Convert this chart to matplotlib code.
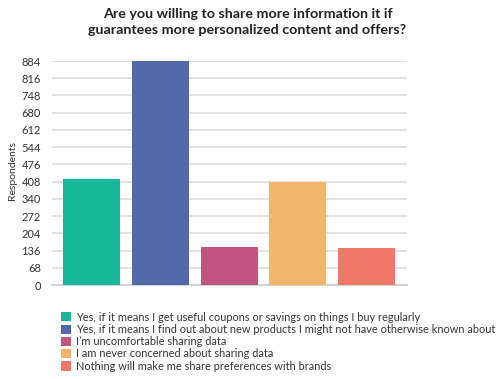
import matplotlib.pyplot as plt
from matplotlib.patches import Patch

# Antworten und Anzahl der Befragten
labels = [
    "Yes, if it means I get useful coupons or savings on things I buy regularly",
    "Yes, if it means I find out about new products I might not have otherwise known about",
    "I\u2019m uncomfortable sharing data",
    "I am never concerned about sharing data",
    "Nothing will make me share preferences with brands",
]
values = [418, 884, 150, 406, 146]
colors = ["#17B99A", "#5169A8", "#C0557F", "#F2B56C", "#F07868"]
yticks = list(range(0, 885, 68))

plt.rcParams["font.family"] = ["Lato", "DejaVu Sans"]

fig = plt.figure(figsize=(5.0, 3.79), dpi=100)
ax = fig.add_axes([0.104, 0.248, 0.71, 0.591])

x = list(range(len(values)))
ax.bar(x, values, width=0.83, color=colors, zorder=3)

ax.set_xlim(-0.58, 4.59)
ax.set_ylim(0, 884)
ax.set_yticks(yticks)
ax.tick_params(axis="y", length=0, labelsize=8, colors="#333333", pad=8)
ax.set_xticks([])
ax.yaxis.grid(True, color="#dddddd", linewidth=1.2, zorder=0)
for s in ["top", "right", "left"]:
    ax.spines[s].set_visible(False)
ax.spines["bottom"].set_color("#cccccc")
ax.spines["bottom"].set_linewidth(1.2)

fig.text(0.026, 0.55, "Respondents", rotation=90, ha="center", va="center",
         fontsize=7.5, color="#333333")

fig.text(0.495, 0.98, "Are you willing to share more information it if\nguarantees more personalized content and offers?",
         ha="center", va="top", fontsize=10.3, fontweight="bold", color="#222222",
         linespacing=1.45)

handles = [Patch(facecolor=c, edgecolor="none") for c in colors]
fig.legend(handles, labels, loc="upper left", bbox_to_anchor=(0.122, 0.178),
           frameon=False, fontsize=7.9, handlelength=0.9, handleheight=0.9,
           handletextpad=0.5, labelspacing=0.12, borderaxespad=0, borderpad=0,
           labelcolor="#333333")

fig.savefig("out.png", dpi=100, facecolor="white")
